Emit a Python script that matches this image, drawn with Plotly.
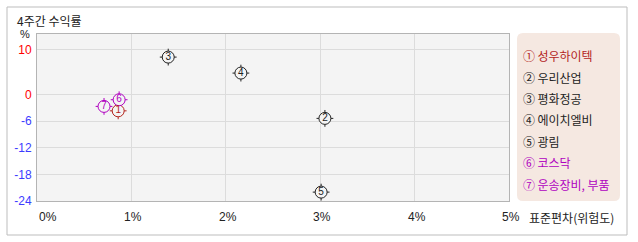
import plotly.graph_objects as go

# ---- data ----
names = ["성우하이텍", "우리산업", "평화정공", "에이치엘비", "광림", "코스닥", "운송장비, 부품"]
labels = ["1", "2", "3", "4", "5", "6", "7"]
circled = ["①", "②", "③", "④", "⑤", "⑥", "⑦"]
std_dev = [0.86, 3.05, 1.39, 2.16, 3.01, 0.87, 0.71]      # x, %
returns = [-3.7, -5.4, 8.4, 4.8, -22.0, -1.2, -2.7]       # y, %
colors = ["#b3241c", "#222222", "#222222", "#222222", "#222222", "#b000c0", "#b000c0"]

x_ticks = [0, 1, 2, 3, 4, 5]
x_ticktext = ["0%", "1%", "2%", "3%", "4%", "5%"]
y_ticks = [10, 0, -6, -12, -18, -24]
y_ticktext = ["10", "0", "-6", "-12", "-18", "-24"]

# ---- layout geometry (pixels) ----
W, H = 638, 242
L, R, T, B = 37, 509, 34, 201
PW, PH = R - L, B - T


def px(x):
    return (x - L) / PW


def py(y):
    return (B - y) / PH


FONT = "Noto Sans CJK KR"
BG = "#f4f4f4"

fig = go.Figure()

# tick marks around circles
fig.add_trace(go.Scatter(
    x=std_dev, y=returns, mode="markers", hoverinfo="skip",
    marker=dict(symbol="cross-thin-open", size=12, color=colors,
                line=dict(width=1, color=colors)),
    showlegend=False))
# circles with digits
fig.add_trace(go.Scatter(
    x=std_dev, y=returns, mode="markers+text", text=labels,
    textposition="middle center",
    textfont=dict(family="Liberation Sans", size=10, color=colors),
    marker=dict(symbol="circle", size=12, color=BG, line=dict(width=1, color=colors)),
    showlegend=False))

ytt = []
for v, t in zip(y_ticks, y_ticktext):
    c = "#ff0000" if v >= 0 else "#3c3cff"
    ytt.append(f"<span style='color:{c}'>{t}</span>")

fig.update_layout(
    width=W, height=H,
    margin=dict(l=L, r=W - R, t=T, b=H - B, autoexpand=False),
    paper_bgcolor="white", plot_bgcolor=BG,
    font=dict(family=FONT, size=12, color="#333333"),
    xaxis=dict(range=[0, 5], tickvals=x_ticks, showticklabels=False,
               showgrid=True, gridcolor="#dcdcdc", gridwidth=1, zeroline=False,
               showline=True, linecolor="#b4b4b4", linewidth=1, mirror=True, fixedrange=True),
    yaxis=dict(range=[-24, 13.6], tickvals=y_ticks, ticktext=ytt,
               showgrid=True, gridcolor="#dcdcdc", gridwidth=1, zeroline=False,
               showline=True, linecolor="#b4b4b4", linewidth=1, mirror=True,
               tickfont=dict(family="Liberation Sans", size=12),
               ticks="", ticklabelstandoff=2, fixedrange=True),
)

shapes = []
# outer frame
shapes.append(dict(type="rect", xref="paper", yref="paper",
                   x0=px(7), x1=px(627), y0=py(235), y1=py(7),
                   line=dict(color="#bdbdbd", width=1), fillcolor="rgba(0,0,0,0)", layer="below"))
# legend rounded box
lx0, lx1, ly0, ly1, r = 517, 620, 33, 201, 6
path = (f"M {px(lx0 + r)},{py(ly0)} L {px(lx1 - r)},{py(ly0)} "
        f"Q {px(lx1)},{py(ly0)} {px(lx1)},{py(ly0 + r)} "
        f"L {px(lx1)},{py(ly1 - r)} Q {px(lx1)},{py(ly1)} {px(lx1 - r)},{py(ly1)} "
        f"L {px(lx0 + r)},{py(ly1)} Q {px(lx0)},{py(ly1)} {px(lx0)},{py(ly1 - r)} "
        f"L {px(lx0)},{py(ly0 + r)} Q {px(lx0)},{py(ly0)} {px(lx0 + r)},{py(ly0)} Z")
shapes.append(dict(type="path", xref="paper", yref="paper", path=path,
                   line=dict(width=0), fillcolor="#f5e8e1", layer="below"))
fig.update_layout(shapes=shapes)

ann = []
# title
ann.append(dict(x=px(15), y=py(21), xref="paper", yref="paper", text="4주간 수익률",
                showarrow=False, xanchor="left", yanchor="middle",
                font=dict(family=FONT, size=12, color="#222222")))
# % label
ann.append(dict(x=px(25), y=py(34), xref="paper", yref="paper", text="%",
                showarrow=False, xanchor="center", yanchor="middle",
                font=dict(family="Liberation Sans", size=11, color="#222222")))
# x tick labels
for v, t in zip(x_ticks, x_ticktext):
    ann.append(dict(x=v, y=py(217), xref="x", yref="paper", text=t, showarrow=False,
                    xanchor="left" if v == 0 else "center", yanchor="middle",
                    xshift=0 if v == 0 else 2,
                    font=dict(family="Liberation Sans", size=12, color="#222222")))
# x axis title
ann.append(dict(x=px(527), y=py(217), xref="paper", yref="paper", text="표준편차(위험도)",
                showarrow=False, xanchor="left", yanchor="middle",
                font=dict(family=FONT, size=12, color="#222222")))
# legend entries
for i, (c, n, col) in enumerate(zip(circled, names, colors)):
    ann.append(dict(x=px(521), y=py(55.7 + i * 21.4), xref="paper", yref="paper",
                    text=f"{c}\u2009{n}", showarrow=False, xanchor="left", yanchor="middle",
                    font=dict(family=FONT, size=12, color=col)))
fig.update_layout(annotations=ann)

fig.write_html("out.html")
